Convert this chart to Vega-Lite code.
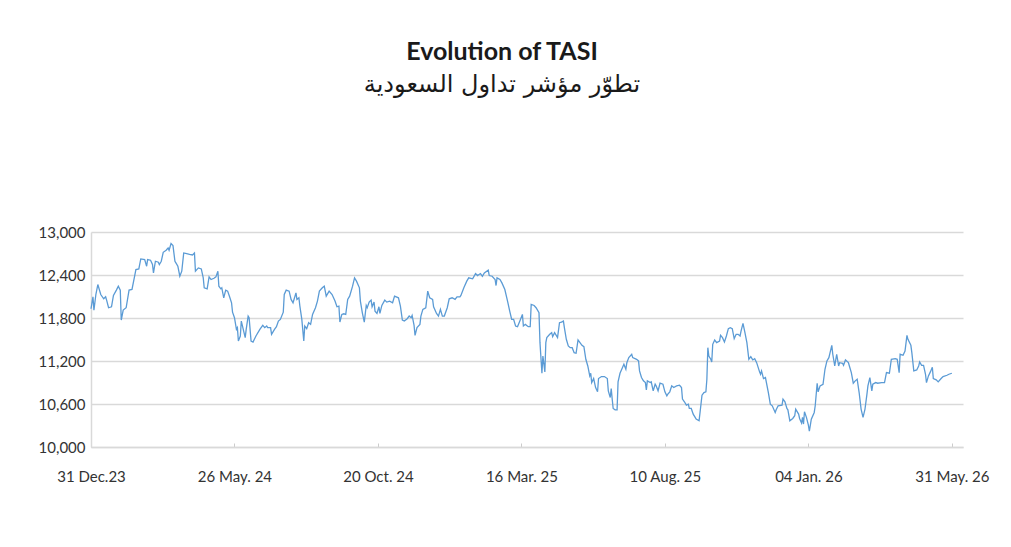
{
  "$schema": "https://vega.github.io/schema/vega-lite/v6.json",
  "width": 872,
  "height": 215,
  "autosize": {"type": "none"},
  "padding": {"left": 91, "top": 232, "right": 48, "bottom": 100},
  "background": "white",
  "title": {
    "text": "Evolution of TASI",
    "subtitle": "تطوّر مؤشر تداول السعودية",
    "anchor": "middle",
    "dx": -25,
    "offset": 128,
    "font": "Lato",
    "fontSize": 25,
    "fontWeight": "bold",
    "color": "#1a1a1a",
    "subtitleFont": "DejaVu Sans",
    "subtitleFontSize": 24,
    "subtitleColor": "#1a1a1a",
    "subtitlePadding": 8
  },
  "data": {
    "values": [
      {"date": "2023-12-31", "value": 11929},
      {"date": "2024-01-02", "value": 12096},
      {"date": "2024-01-03", "value": 11910},
      {"date": "2024-01-05", "value": 12128},
      {"date": "2024-01-07", "value": 12267},
      {"date": "2024-01-10", "value": 12128},
      {"date": "2024-01-13", "value": 12068},
      {"date": "2024-01-15", "value": 12096},
      {"date": "2024-01-16", "value": 12050},
      {"date": "2024-01-18", "value": 11943},
      {"date": "2024-01-21", "value": 11957},
      {"date": "2024-01-23", "value": 12114},
      {"date": "2024-01-26", "value": 12189},
      {"date": "2024-01-28", "value": 12244},
      {"date": "2024-01-30", "value": 12189},
      {"date": "2024-01-31", "value": 11771},
      {"date": "2024-02-02", "value": 11910},
      {"date": "2024-02-05", "value": 11943},
      {"date": "2024-02-08", "value": 12189},
      {"date": "2024-02-11", "value": 12198},
      {"date": "2024-02-14", "value": 12406},
      {"date": "2024-02-15", "value": 12476},
      {"date": "2024-02-18", "value": 12485},
      {"date": "2024-02-20", "value": 12624},
      {"date": "2024-02-24", "value": 12615},
      {"date": "2024-02-26", "value": 12522},
      {"date": "2024-02-27", "value": 12615},
      {"date": "2024-03-01", "value": 12606},
      {"date": "2024-03-03", "value": 12546},
      {"date": "2024-03-04", "value": 12430},
      {"date": "2024-03-06", "value": 12592},
      {"date": "2024-03-09", "value": 12578},
      {"date": "2024-03-10", "value": 12546},
      {"date": "2024-03-12", "value": 12592},
      {"date": "2024-03-14", "value": 12717},
      {"date": "2024-03-17", "value": 12745},
      {"date": "2024-03-19", "value": 12777},
      {"date": "2024-03-20", "value": 12745},
      {"date": "2024-03-22", "value": 12838},
      {"date": "2024-03-24", "value": 12810},
      {"date": "2024-03-26", "value": 12592},
      {"date": "2024-03-27", "value": 12569},
      {"date": "2024-03-29", "value": 12522},
      {"date": "2024-03-31", "value": 12383},
      {"date": "2024-04-02", "value": 12453},
      {"date": "2024-04-04", "value": 12708},
      {"date": "2024-04-07", "value": 12699},
      {"date": "2024-04-10", "value": 12689},
      {"date": "2024-04-13", "value": 12680},
      {"date": "2024-04-15", "value": 12708},
      {"date": "2024-04-16", "value": 12453},
      {"date": "2024-04-19", "value": 12499},
      {"date": "2024-04-22", "value": 12485},
      {"date": "2024-04-24", "value": 12360},
      {"date": "2024-04-25", "value": 12221},
      {"date": "2024-04-28", "value": 12207},
      {"date": "2024-04-30", "value": 12374},
      {"date": "2024-05-02", "value": 12337},
      {"date": "2024-05-05", "value": 12355},
      {"date": "2024-05-07", "value": 12374},
      {"date": "2024-05-09", "value": 12453},
      {"date": "2024-05-10", "value": 12244},
      {"date": "2024-05-12", "value": 12207},
      {"date": "2024-05-13", "value": 12221},
      {"date": "2024-05-15", "value": 12082},
      {"date": "2024-05-17", "value": 12189},
      {"date": "2024-05-19", "value": 12175},
      {"date": "2024-05-21", "value": 12096},
      {"date": "2024-05-23", "value": 12012},
      {"date": "2024-05-24", "value": 11882},
      {"date": "2024-05-26", "value": 11804},
      {"date": "2024-05-28", "value": 11641},
      {"date": "2024-05-29", "value": 11665},
      {"date": "2024-05-30", "value": 11479},
      {"date": "2024-06-01", "value": 11549},
      {"date": "2024-06-02", "value": 11757},
      {"date": "2024-06-04", "value": 11641},
      {"date": "2024-06-06", "value": 11526},
      {"date": "2024-06-07", "value": 11641},
      {"date": "2024-06-09", "value": 11827},
      {"date": "2024-06-10", "value": 11804},
      {"date": "2024-06-12", "value": 11479},
      {"date": "2024-06-14", "value": 11465},
      {"date": "2024-06-17", "value": 11549},
      {"date": "2024-06-21", "value": 11641},
      {"date": "2024-06-24", "value": 11697},
      {"date": "2024-06-26", "value": 11665},
      {"date": "2024-06-28", "value": 11688},
      {"date": "2024-06-29", "value": 11665},
      {"date": "2024-07-02", "value": 11665},
      {"date": "2024-07-03", "value": 11572},
      {"date": "2024-07-06", "value": 11641},
      {"date": "2024-07-08", "value": 11679},
      {"date": "2024-07-10", "value": 11757},
      {"date": "2024-07-12", "value": 11780},
      {"date": "2024-07-15", "value": 11882},
      {"date": "2024-07-16", "value": 12128},
      {"date": "2024-07-18", "value": 12189},
      {"date": "2024-07-21", "value": 12175},
      {"date": "2024-07-23", "value": 12059},
      {"date": "2024-07-25", "value": 12012},
      {"date": "2024-07-28", "value": 12151},
      {"date": "2024-07-29", "value": 12059},
      {"date": "2024-07-31", "value": 12082},
      {"date": "2024-08-01", "value": 11966},
      {"date": "2024-08-03", "value": 11780},
      {"date": "2024-08-05", "value": 11479},
      {"date": "2024-08-06", "value": 11688},
      {"date": "2024-08-08", "value": 11651},
      {"date": "2024-08-10", "value": 11734},
      {"date": "2024-08-12", "value": 11711},
      {"date": "2024-08-14", "value": 11850},
      {"date": "2024-08-17", "value": 11943},
      {"date": "2024-08-19", "value": 12036},
      {"date": "2024-08-21", "value": 12175},
      {"date": "2024-08-24", "value": 12221},
      {"date": "2024-08-26", "value": 12244},
      {"date": "2024-08-28", "value": 12105},
      {"date": "2024-08-31", "value": 12175},
      {"date": "2024-09-03", "value": 12128},
      {"date": "2024-09-06", "value": 12036},
      {"date": "2024-09-08", "value": 11957},
      {"date": "2024-09-10", "value": 11966},
      {"date": "2024-09-11", "value": 11743},
      {"date": "2024-09-13", "value": 11850},
      {"date": "2024-09-15", "value": 11859},
      {"date": "2024-09-17", "value": 11850},
      {"date": "2024-09-19", "value": 12059},
      {"date": "2024-09-21", "value": 12105},
      {"date": "2024-09-24", "value": 12244},
      {"date": "2024-09-26", "value": 12360},
      {"date": "2024-09-28", "value": 12314},
      {"date": "2024-10-01", "value": 12221},
      {"date": "2024-10-02", "value": 12036},
      {"date": "2024-10-04", "value": 11873},
      {"date": "2024-10-06", "value": 11743},
      {"date": "2024-10-08", "value": 11975},
      {"date": "2024-10-09", "value": 11943},
      {"date": "2024-10-11", "value": 12022},
      {"date": "2024-10-13", "value": 12050},
      {"date": "2024-10-14", "value": 11957},
      {"date": "2024-10-16", "value": 12022},
      {"date": "2024-10-17", "value": 11896},
      {"date": "2024-10-19", "value": 11864},
      {"date": "2024-10-21", "value": 11957},
      {"date": "2024-10-22", "value": 11864},
      {"date": "2024-10-24", "value": 11975},
      {"date": "2024-10-27", "value": 12050},
      {"date": "2024-10-29", "value": 12022},
      {"date": "2024-11-01", "value": 12036},
      {"date": "2024-11-04", "value": 12012},
      {"date": "2024-11-06", "value": 12105},
      {"date": "2024-11-10", "value": 12082},
      {"date": "2024-11-12", "value": 11966},
      {"date": "2024-11-14", "value": 11771},
      {"date": "2024-11-16", "value": 11757},
      {"date": "2024-11-19", "value": 11790},
      {"date": "2024-11-21", "value": 11827},
      {"date": "2024-11-23", "value": 11804},
      {"date": "2024-11-24", "value": 11836},
      {"date": "2024-11-26", "value": 11697},
      {"date": "2024-11-27", "value": 11558},
      {"date": "2024-11-29", "value": 11665},
      {"date": "2024-12-02", "value": 11711},
      {"date": "2024-12-03", "value": 11827},
      {"date": "2024-12-05", "value": 11920},
      {"date": "2024-12-08", "value": 11943},
      {"date": "2024-12-10", "value": 12175},
      {"date": "2024-12-12", "value": 12082},
      {"date": "2024-12-15", "value": 12059},
      {"date": "2024-12-16", "value": 11957},
      {"date": "2024-12-19", "value": 11864},
      {"date": "2024-12-21", "value": 11827},
      {"date": "2024-12-23", "value": 11920},
      {"date": "2024-12-25", "value": 11827},
      {"date": "2024-12-27", "value": 11827},
      {"date": "2024-12-30", "value": 11943},
      {"date": "2025-01-01", "value": 12068},
      {"date": "2025-01-04", "value": 12082},
      {"date": "2025-01-07", "value": 12059},
      {"date": "2025-01-09", "value": 12096},
      {"date": "2025-01-12", "value": 12096},
      {"date": "2025-01-13", "value": 12114},
      {"date": "2025-01-16", "value": 12221},
      {"date": "2025-01-19", "value": 12314},
      {"date": "2025-01-21", "value": 12360},
      {"date": "2025-01-25", "value": 12346},
      {"date": "2025-01-28", "value": 12420},
      {"date": "2025-01-30", "value": 12392},
      {"date": "2025-02-02", "value": 12420},
      {"date": "2025-02-04", "value": 12383},
      {"date": "2025-02-06", "value": 12430},
      {"date": "2025-02-10", "value": 12467},
      {"date": "2025-02-11", "value": 12392},
      {"date": "2025-02-14", "value": 12383},
      {"date": "2025-02-17", "value": 12337},
      {"date": "2025-02-18", "value": 12253},
      {"date": "2025-02-19", "value": 12360},
      {"date": "2025-02-22", "value": 12337},
      {"date": "2025-02-24", "value": 12290},
      {"date": "2025-02-27", "value": 12198},
      {"date": "2025-03-01", "value": 12082},
      {"date": "2025-03-02", "value": 12022},
      {"date": "2025-03-04", "value": 11896},
      {"date": "2025-03-06", "value": 11780},
      {"date": "2025-03-08", "value": 11780},
      {"date": "2025-03-10", "value": 11688},
      {"date": "2025-03-12", "value": 11679},
      {"date": "2025-03-15", "value": 11780},
      {"date": "2025-03-17", "value": 11850},
      {"date": "2025-03-18", "value": 11688},
      {"date": "2025-03-20", "value": 11711},
      {"date": "2025-03-23", "value": 11679},
      {"date": "2025-03-25", "value": 11679},
      {"date": "2025-03-26", "value": 11989},
      {"date": "2025-03-29", "value": 11975},
      {"date": "2025-03-31", "value": 11943},
      {"date": "2025-04-03", "value": 11873},
      {"date": "2025-04-04", "value": 11456},
      {"date": "2025-04-06", "value": 11029},
      {"date": "2025-04-07", "value": 11270},
      {"date": "2025-04-09", "value": 11048},
      {"date": "2025-04-10", "value": 11456},
      {"date": "2025-04-11", "value": 11526},
      {"date": "2025-04-14", "value": 11572},
      {"date": "2025-04-16", "value": 11595},
      {"date": "2025-04-17", "value": 11540},
      {"date": "2025-04-19", "value": 11595},
      {"date": "2025-04-22", "value": 11526},
      {"date": "2025-04-24", "value": 11734},
      {"date": "2025-04-26", "value": 11743},
      {"date": "2025-04-28", "value": 11757},
      {"date": "2025-04-29", "value": 11665},
      {"date": "2025-05-01", "value": 11503},
      {"date": "2025-05-03", "value": 11410},
      {"date": "2025-05-05", "value": 11386},
      {"date": "2025-05-07", "value": 11386},
      {"date": "2025-05-09", "value": 11317},
      {"date": "2025-05-11", "value": 11308},
      {"date": "2025-05-13", "value": 11493},
      {"date": "2025-05-15", "value": 11456},
      {"date": "2025-05-17", "value": 11419},
      {"date": "2025-05-19", "value": 11400},
      {"date": "2025-05-21", "value": 11224},
      {"date": "2025-05-23", "value": 11131},
      {"date": "2025-05-25", "value": 10992},
      {"date": "2025-05-26", "value": 11029},
      {"date": "2025-05-27", "value": 10899},
      {"date": "2025-05-29", "value": 10955},
      {"date": "2025-05-31", "value": 10830},
      {"date": "2025-06-02", "value": 10770},
      {"date": "2025-06-03", "value": 10955},
      {"date": "2025-06-06", "value": 10983},
      {"date": "2025-06-09", "value": 10983},
      {"date": "2025-06-12", "value": 10955},
      {"date": "2025-06-13", "value": 10784},
      {"date": "2025-06-15", "value": 10691},
      {"date": "2025-06-16", "value": 10816},
      {"date": "2025-06-17", "value": 10668},
      {"date": "2025-06-18", "value": 10538},
      {"date": "2025-06-20", "value": 10519},
      {"date": "2025-06-22", "value": 10519},
      {"date": "2025-06-23", "value": 10909},
      {"date": "2025-06-25", "value": 11029},
      {"date": "2025-06-28", "value": 11122},
      {"date": "2025-06-29", "value": 11154},
      {"date": "2025-07-01", "value": 11085},
      {"date": "2025-07-02", "value": 11177},
      {"date": "2025-07-04", "value": 11247},
      {"date": "2025-07-07", "value": 11294},
      {"date": "2025-07-08", "value": 11247},
      {"date": "2025-07-12", "value": 11224},
      {"date": "2025-07-14", "value": 11201},
      {"date": "2025-07-15", "value": 11062},
      {"date": "2025-07-17", "value": 10969},
      {"date": "2025-07-19", "value": 10923},
      {"date": "2025-07-21", "value": 10899},
      {"date": "2025-07-22", "value": 10797},
      {"date": "2025-07-23", "value": 10923},
      {"date": "2025-07-26", "value": 10899},
      {"date": "2025-07-27", "value": 10909},
      {"date": "2025-07-29", "value": 10784},
      {"date": "2025-07-31", "value": 10876},
      {"date": "2025-08-01", "value": 10853},
      {"date": "2025-08-03", "value": 10784},
      {"date": "2025-08-05", "value": 10890},
      {"date": "2025-08-08", "value": 10876},
      {"date": "2025-08-10", "value": 10770},
      {"date": "2025-08-12", "value": 10714},
      {"date": "2025-08-13", "value": 10737},
      {"date": "2025-08-15", "value": 10770},
      {"date": "2025-08-17", "value": 10853},
      {"date": "2025-08-19", "value": 10830},
      {"date": "2025-08-22", "value": 10853},
      {"date": "2025-08-25", "value": 10862},
      {"date": "2025-08-27", "value": 10830},
      {"date": "2025-08-28", "value": 10668},
      {"date": "2025-08-30", "value": 10631},
      {"date": "2025-09-01", "value": 10584},
      {"date": "2025-09-03", "value": 10598},
      {"date": "2025-09-04", "value": 10538},
      {"date": "2025-09-06", "value": 10538},
      {"date": "2025-09-08", "value": 10459},
      {"date": "2025-09-10", "value": 10413},
      {"date": "2025-09-11", "value": 10389},
      {"date": "2025-09-14", "value": 10366},
      {"date": "2025-09-15", "value": 10482},
      {"date": "2025-09-17", "value": 10723},
      {"date": "2025-09-19", "value": 10760},
      {"date": "2025-09-21", "value": 10770},
      {"date": "2025-09-22", "value": 10946},
      {"date": "2025-09-23", "value": 11386},
      {"date": "2025-09-24", "value": 11270},
      {"date": "2025-09-26", "value": 11224},
      {"date": "2025-09-27", "value": 11187},
      {"date": "2025-09-28", "value": 11433},
      {"date": "2025-09-30", "value": 11493},
      {"date": "2025-10-02", "value": 11456},
      {"date": "2025-10-05", "value": 11479},
      {"date": "2025-10-06", "value": 11558},
      {"date": "2025-10-08", "value": 11526},
      {"date": "2025-10-10", "value": 11465},
      {"date": "2025-10-12", "value": 11549},
      {"date": "2025-10-14", "value": 11651},
      {"date": "2025-10-16", "value": 11665},
      {"date": "2025-10-18", "value": 11651},
      {"date": "2025-10-20", "value": 11512},
      {"date": "2025-10-22", "value": 11572},
      {"date": "2025-10-24", "value": 11572},
      {"date": "2025-10-26", "value": 11549},
      {"date": "2025-10-27", "value": 11618},
      {"date": "2025-10-29", "value": 11725},
      {"date": "2025-10-31", "value": 11595},
      {"date": "2025-11-02", "value": 11456},
      {"date": "2025-11-04", "value": 11224},
      {"date": "2025-11-06", "value": 11261},
      {"date": "2025-11-08", "value": 11215},
      {"date": "2025-11-10", "value": 11233},
      {"date": "2025-11-12", "value": 11177},
      {"date": "2025-11-15", "value": 11048},
      {"date": "2025-11-16", "value": 11015},
      {"date": "2025-11-17", "value": 11062},
      {"date": "2025-11-19", "value": 10955},
      {"date": "2025-11-21", "value": 10969},
      {"date": "2025-11-24", "value": 10760},
      {"date": "2025-11-26", "value": 10598},
      {"date": "2025-11-28", "value": 10575},
      {"date": "2025-12-01", "value": 10482},
      {"date": "2025-12-02", "value": 10519},
      {"date": "2025-12-04", "value": 10575},
      {"date": "2025-12-08", "value": 10584},
      {"date": "2025-12-09", "value": 10668},
      {"date": "2025-12-11", "value": 10631},
      {"date": "2025-12-13", "value": 10538},
      {"date": "2025-12-14", "value": 10519},
      {"date": "2025-12-16", "value": 10366},
      {"date": "2025-12-19", "value": 10398},
      {"date": "2025-12-21", "value": 10436},
      {"date": "2025-12-22", "value": 10529},
      {"date": "2025-12-25", "value": 10459},
      {"date": "2025-12-26", "value": 10398},
      {"date": "2025-12-28", "value": 10334},
      {"date": "2025-12-29", "value": 10413},
      {"date": "2025-12-30", "value": 10320},
      {"date": "2025-12-31", "value": 10491},
      {"date": "2026-01-02", "value": 10413},
      {"date": "2026-01-04", "value": 10306},
      {"date": "2026-01-05", "value": 10222},
      {"date": "2026-01-07", "value": 10389},
      {"date": "2026-01-10", "value": 10482},
      {"date": "2026-01-11", "value": 10575},
      {"date": "2026-01-13", "value": 10890},
      {"date": "2026-01-14", "value": 10770},
      {"date": "2026-01-16", "value": 10853},
      {"date": "2026-01-19", "value": 10876},
      {"date": "2026-01-21", "value": 11085},
      {"date": "2026-01-23", "value": 11201},
      {"date": "2026-01-25", "value": 11247},
      {"date": "2026-01-28", "value": 11419},
      {"date": "2026-01-29", "value": 11294},
      {"date": "2026-01-31", "value": 11131},
      {"date": "2026-02-02", "value": 11294},
      {"date": "2026-02-04", "value": 11131},
      {"date": "2026-02-05", "value": 11177},
      {"date": "2026-02-08", "value": 11168},
      {"date": "2026-02-09", "value": 11140},
      {"date": "2026-02-11", "value": 11215},
      {"date": "2026-02-14", "value": 11177},
      {"date": "2026-02-15", "value": 11131},
      {"date": "2026-02-17", "value": 11038},
      {"date": "2026-02-19", "value": 10890},
      {"date": "2026-02-21", "value": 10923},
      {"date": "2026-02-23", "value": 10946},
      {"date": "2026-02-25", "value": 10760},
      {"date": "2026-02-27", "value": 10529},
      {"date": "2026-03-01", "value": 10413},
      {"date": "2026-03-03", "value": 10529},
      {"date": "2026-03-05", "value": 10737},
      {"date": "2026-03-06", "value": 10853},
      {"date": "2026-03-08", "value": 10969},
      {"date": "2026-03-10", "value": 10784},
      {"date": "2026-03-11", "value": 10876},
      {"date": "2026-03-14", "value": 10899},
      {"date": "2026-03-16", "value": 10890},
      {"date": "2026-03-20", "value": 10899},
      {"date": "2026-03-23", "value": 10899},
      {"date": "2026-03-25", "value": 11038},
      {"date": "2026-03-28", "value": 11029},
      {"date": "2026-03-30", "value": 11224},
      {"date": "2026-04-03", "value": 11233},
      {"date": "2026-04-05", "value": 11224},
      {"date": "2026-04-07", "value": 11038},
      {"date": "2026-04-08", "value": 11294},
      {"date": "2026-04-11", "value": 11280},
      {"date": "2026-04-13", "value": 11340},
      {"date": "2026-04-15", "value": 11558},
      {"date": "2026-04-16", "value": 11503},
      {"date": "2026-04-19", "value": 11419},
      {"date": "2026-04-20", "value": 11317},
      {"date": "2026-04-22", "value": 11062},
      {"date": "2026-04-25", "value": 11075},
      {"date": "2026-04-27", "value": 11131},
      {"date": "2026-04-28", "value": 11187},
      {"date": "2026-04-30", "value": 11140},
      {"date": "2026-05-02", "value": 11140},
      {"date": "2026-05-04", "value": 11015},
      {"date": "2026-05-05", "value": 10899},
      {"date": "2026-05-07", "value": 10992},
      {"date": "2026-05-09", "value": 11048},
      {"date": "2026-05-11", "value": 11113},
      {"date": "2026-05-12", "value": 10955},
      {"date": "2026-05-15", "value": 10937},
      {"date": "2026-05-17", "value": 10909},
      {"date": "2026-05-20", "value": 10955},
      {"date": "2026-05-22", "value": 10983},
      {"date": "2026-05-26", "value": 11001},
      {"date": "2026-05-28", "value": 11015},
      {"date": "2026-05-31", "value": 11029}
    ]
  },
  "mark": {"type": "line", "color": "#5b9bd5", "strokeWidth": 1.3},
  "encoding": {
    "x": {
      "field": "date",
      "type": "temporal",
      "scale": {
        "type": "utc",
        "domain": [
          {"year": 2023, "month": 12, "date": 31, "utc": true},
          {"year": 2026, "month": 6, "date": 11, "hours": 10, "utc": true}
        ]
      },
      "axis": {
        "title": null,
        "values": [
          {"year": 2023, "month": 12, "date": 31, "utc": true},
          {"year": 2024, "month": 5, "date": 26, "utc": true},
          {"year": 2024, "month": 10, "date": 20, "utc": true},
          {"year": 2025, "month": 3, "date": 16, "utc": true},
          {"year": 2025, "month": 8, "date": 10, "utc": true},
          {"year": 2026, "month": 1, "date": 4, "utc": true},
          {"year": 2026, "month": 5, "date": 31, "utc": true}
        ],
        "labelExpr": "replace(utcFormat(datum.value, '%d %b. %y'), 'Dec. 23', 'Dec.23')",
        "grid": false,
        "labelFlush": false,
        "labelOverlap": false,
        "domainColor": "#d9d9d9",
        "domainWidth": 1.5,
        "tickColor": "#cccccc",
        "tickSize": -4,
        "tickWidth": 1,
        "labelPadding": 26,
        "labelFont": "Lato",
        "labelFontSize": 15,
        "labelColor": "#333333"
      }
    },
    "y": {
      "field": "value",
      "type": "quantitative",
      "scale": {"domain": [10000, 13000], "nice": false, "zero": false},
      "axis": {
        "title": null,
        "values": [10000, 10600, 11200, 11800, 12400, 13000],
        "format": ",.0f",
        "grid": true,
        "gridColor": "#d9d9d9",
        "gridWidth": 1.5,
        "domain": true,
        "domainColor": "#d9d9d9",
        "domainWidth": 1.5,
        "ticks": false,
        "labelPadding": 6,
        "labelFont": "Lato",
        "labelFontSize": 15,
        "labelColor": "#333333"
      }
    }
  },
  "config": {"view": {"stroke": null}}
}
